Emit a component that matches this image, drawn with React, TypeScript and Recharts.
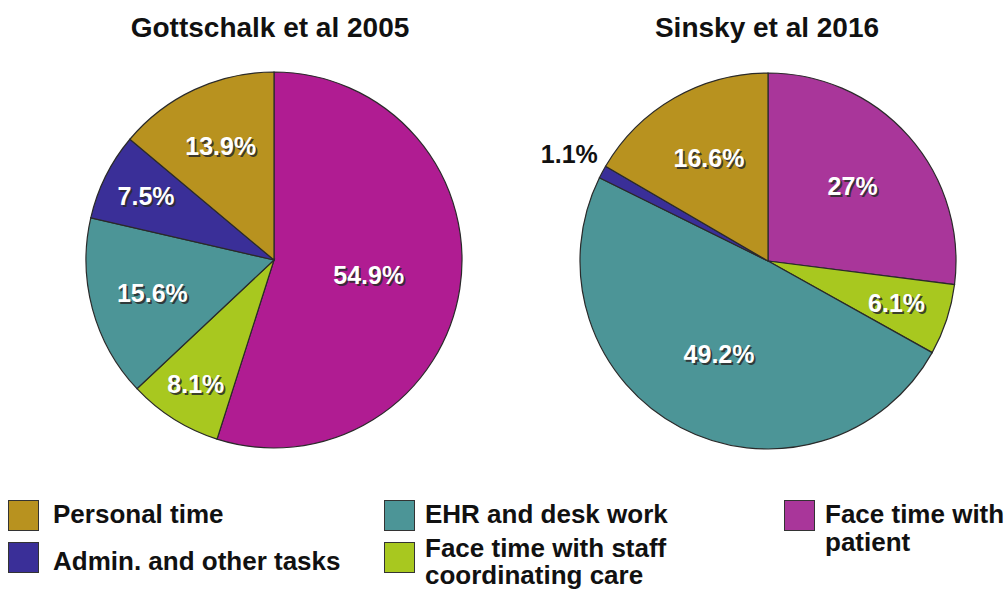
import { PieChart, Pie, Cell } from 'recharts';

// categories in clockwise order starting at 12 o'clock
const CATEGORIES = [
  'Face time with patient',
  'Face time with staff coordinating care',
  'EHR and desk work',
  'Admin. and other tasks',
  'Personal time',
];

const GOTTSCHALK_2005 = [54.9, 8.1, 15.6, 7.5, 13.9];
const SINSKY_2016 = [27, 6.1, 49.2, 1.1, 16.6];

const TITLES = ['Gottschalk et al 2005', 'Sinsky et al 2016'];

const COLORS: Record<string, string> = {
  'Face time with patient': '#B01C92',
  'Face time with staff coordinating care': '#A8C81F',
  'EHR and desk work': '#4C9597',
  'Admin. and other tasks': '#3A2F98',
  'Personal time': '#B8921F',
};
// the 2016 magenta is a bit more muted in the source figure
const MAGENTA_2016 = '#A9369A';

// label distance from centre, as a share of the radius
const LABEL_R_LEFT = [0.51, 0.78, 0.67, 0.76, 0.67];
const LABEL_R_RIGHT = [0.6, 0.72, 0.56, 1.2, 0.63];

const RAD = Math.PI / 180;

const toRows = (values: number[]) =>
  CATEGORIES.map((name, i) => ({ name, value: values[i] }));

function makeLabel(ratios: number[]) {
  return (props: any) => {
    const { cx, cy, midAngle, outerRadius, index, value } = props;
    const r = outerRadius * ratios[index];
    const x = cx + r * Math.cos(-midAngle * RAD);
    const y = cy + r * Math.sin(-midAngle * RAD);
    const outside = ratios[index] > 1;
    const text = `${value}%`;
    const common = {
      textAnchor: 'middle' as const,
      dominantBaseline: 'central' as const,
      fontFamily: 'Liberation Sans, Arial, sans-serif',
      fontWeight: 700,
      fontSize: 25,
    };
    if (outside) {
      return (
        <text x={x} y={y} fill="#111" {...common}>
          {text}
        </text>
      );
    }
    return (
      <g>
        <text x={x + 1.8} y={y + 1.8} fill="#2b2b2b" opacity={0.85} {...common}>
          {text}
        </text>
        <text x={x} y={y} fill="#ffffff" {...common}>
          {text}
        </text>
      </g>
    );
  };
}

const legendFont: React.CSSProperties = {
  fontFamily: 'Liberation Sans, Arial, sans-serif',
  fontWeight: 700,
  fontSize: 26,
  color: '#111',
  lineHeight: '28px',
  position: 'absolute',
  whiteSpace: 'nowrap',
};

function Swatch({ x, y, color }: { x: number; y: number; color: string }) {
  return (
    <div
      style={{
        position: 'absolute',
        left: x,
        top: y,
        width: 31,
        height: 31,
        background: color,
        border: '1px solid #333',
        boxSizing: 'border-box',
      }}
    />
  );
}

export default function App() {
  const left = toRows(GOTTSCHALK_2005);
  const right = toRows(SINSKY_2016);

  return (
    <div
      style={{
        position: 'absolute',
        left: 0,
        top: 0,
        width: 1007,
        height: 592,
        background: '#fff',
        overflow: 'hidden',
      }}
    >
      <PieChart width={1007} height={592} margin={{ top: 0, right: 0, bottom: 0, left: 0 }}>
        <Pie
          data={left}
          dataKey="value"
          nameKey="name"
          cx={274}
          cy={260}
          outerRadius={188}
          startAngle={90}
          endAngle={-270}
          stroke="#2a2a2a"
          strokeWidth={1.2}
          label={makeLabel(LABEL_R_LEFT)}
          labelLine={false}
          isAnimationActive={false}
        >
          {left.map((d) => (
            <Cell key={d.name} fill={COLORS[d.name]} />
          ))}
        </Pie>
        <Pie
          data={right}
          dataKey="value"
          nameKey="name"
          cx={768}
          cy={261}
          outerRadius={188}
          startAngle={90}
          endAngle={-270}
          stroke="#2a2a2a"
          strokeWidth={1.2}
          label={makeLabel(LABEL_R_RIGHT)}
          labelLine={false}
          isAnimationActive={false}
        >
          {right.map((d) => (
            <Cell
              key={d.name}
              fill={d.name === 'Face time with patient' ? MAGENTA_2016 : COLORS[d.name]}
            />
          ))}
        </Pie>
      </PieChart>

      {/* titles */}
      <div style={{ ...legendFont, fontSize: 28, left: 270 - 150, width: 300, top: 14, textAlign: 'center' }}>
        {TITLES[0]}
      </div>
      <div style={{ ...legendFont, fontSize: 28, left: 767 - 150, width: 300, top: 14, textAlign: 'center' }}>
        {TITLES[1]}
      </div>

      {/* legend */}
      <Swatch x={8} y={500} color={COLORS['Personal time']} />
      <div style={{ ...legendFont, left: 53, top: 500 }}>Personal time</div>
      <Swatch x={8} y={542} color={COLORS['Admin. and other tasks']} />
      <div style={{ ...legendFont, left: 53, top: 547 }}>Admin. and other tasks</div>

      <Swatch x={384} y={500} color={COLORS['EHR and desk work']} />
      <div style={{ ...legendFont, left: 425, top: 500 }}>EHR and desk work</div>
      <Swatch x={384} y={542} color={COLORS['Face time with staff coordinating care']} />
      <div style={{ ...legendFont, left: 425, top: 535, lineHeight: '27px' }}>
        Face time with staff
        <br />
        coordinating care
      </div>

      <Swatch x={784} y={500} color={MAGENTA_2016} />
      <div style={{ ...legendFont, left: 825, top: 500 }}>
        Face time with
        <br />
        patient
      </div>
    </div>
  );
}
